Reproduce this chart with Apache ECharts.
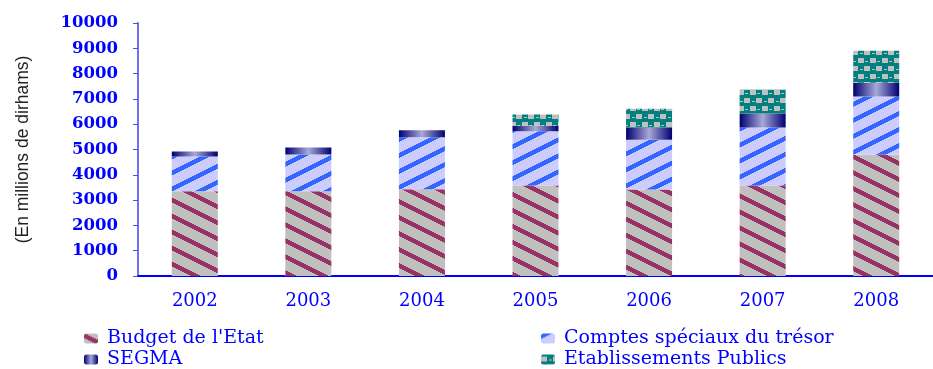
<!DOCTYPE html>
<html>
<head>
<meta charset="utf-8">
<script src="https://cdn.jsdelivr.net/npm/echarts@6/dist/echarts.min.js"></script>
<style>
  html, body { margin: 0; padding: 0; background: #fff; }
</style>
</head>
<body>
<div id="main" style="width: 933px;height:369px;"></div>
<script>
var years = ['2002', '2003', '2004', '2005', '2006', '2007', '2008'];
var budgetEtat = [3350, 3350, 3430, 3580, 3420, 3580, 4800];
var comptesSpeciaux = [1370, 1450, 2050, 2140, 1970, 2290, 2290];
var segma = [200, 280, 280, 220, 480, 550, 550];
var etablissements = [0, 0, 0, 440, 740, 940, 1260];

// pixel patterns, like the old office fills
function stripes(bg, fg, dir) {
  var c = document.createElement('canvas');
  c.width = 32; c.height = 16;
  var ctx = c.getContext('2d');
  ctx.fillStyle = bg;
  ctx.fillRect(0, 0, 32, 16);
  ctx.fillStyle = fg;
  for (var x = 0; x < 32; x++) {
    for (var y = 0; y < 16; y++) {
      var v = dir > 0 ? (y - Math.floor(x / 2)) : (y + Math.floor(x / 2));
      if (((v % 16) + 16) % 16 < 5) ctx.fillRect(x, y, 1, 1);
    }
  }
  return { image: c, repeat: 'repeat' };
}

function checker() {
  var c = document.createElement('canvas');
  c.width = 24; c.height = 16;
  var ctx = c.getContext('2d');
  ctx.fillStyle = '#008080';
  ctx.fillRect(0, 0, 24, 16);
  ctx.fillStyle = '#c0c0c0';
  // upper row of blocks
  ctx.fillRect(0, 2, 6, 5);
  ctx.fillRect(12, 2, 6, 5);
  ctx.fillRect(8, 5, 3, 1);
  ctx.fillRect(20, 5, 3, 1);
  // lower row, shifted
  ctx.fillRect(6, 10, 6, 5);
  ctx.fillRect(18, 10, 6, 5);
  ctx.fillRect(1, 13, 3, 1);
  ctx.fillRect(13, 13, 3, 1);
  return { image: c, repeat: 'repeat' };
}

var budgetFill = stripes('#c0c0c0', '#993366', 1);
var compteFill = stripes('#ccccff', '#3366ff', -1);
var segmaFill = new echarts.graphic.LinearGradient(0, 0, 1, 0, [
  { offset: 0, color: '#000070' },
  { offset: 0.5, color: '#a8a8d8' },
  { offset: 1, color: '#000070' }
]);
var epFill = checker();

var chartDom = document.getElementById('main');
var myChart = echarts.init(chartDom);
var option;

function legendAt(name, left, top) {
  return {
    left: left, top: top, padding: 0,
    itemWidth: 14, itemHeight: 10,
    textStyle: {
      color: '#0000ff',
      fontFamily: 'DejaVu Serif',
      fontSize: 19,
      padding: [0, 0, 0, 4]
    },
    data: [name]
  };
}

option = {
  animation: false,
  grid: { left: 138, right: -2, top: 23, bottom: 93 },
  legend: [
    legendAt("Budget de l'Etat", 84, 329),
    legendAt('SEGMA', 84, 350),
    legendAt('Comptes spéciaux du trésor', 541, 329),
    legendAt('Etablissements Publics', 541, 350)
  ],
  xAxis: {
    type: 'category',
    data: years,
    axisLine: { lineStyle: { color: '#0000ff', width: 2 } },
    axisTick: { length: 5, lineStyle: { color: '#6f6fff' } },
    axisLabel: {
      color: '#0000ff',
      fontFamily: 'DejaVu Serif',
      fontSize: 18,
      margin: 16
    }
  },
  yAxis: {
    type: 'value',
    min: 0,
    max: 10000,
    interval: 1000,
    name: '(En millions de dirhams)',
    nameLocation: 'middle',
    nameGap: 106,
    nameTextStyle: {
      color: '#222222',
      fontFamily: 'Liberation Sans',
      fontSize: 17.5
    },
    splitLine: { show: false },
    axisLine: { show: true, lineStyle: { color: '#7070f0', width: 2 } },
    axisTick: { show: true, length: 5, lineStyle: { color: '#5050e0' } },
    axisLabel: {
      color: '#0000ff',
      fontFamily: 'DejaVu Serif',
      fontWeight: 'bold',
      fontSize: 16.5,
      margin: 20,
      formatter: function (v) { return String(v); }
    }
  },
  series: [
    {
      name: "Budget de l'Etat", type: 'bar', stack: 'total', barWidth: 46,
      itemStyle: { color: budgetFill },
      data: budgetEtat
    },
    {
      name: 'Comptes spéciaux du trésor', type: 'bar', stack: 'total', barWidth: 46,
      itemStyle: { color: compteFill },
      data: comptesSpeciaux
    },
    {
      name: 'SEGMA', type: 'bar', stack: 'total', barWidth: 46,
      itemStyle: { color: segmaFill },
      data: segma
    },
    {
      name: 'Etablissements Publics', type: 'bar', stack: 'total', barWidth: 46,
      itemStyle: { color: epFill },
      data: etablissements
    }
  ]
};

option && myChart.setOption(option);
</script>
</body>
</html>
